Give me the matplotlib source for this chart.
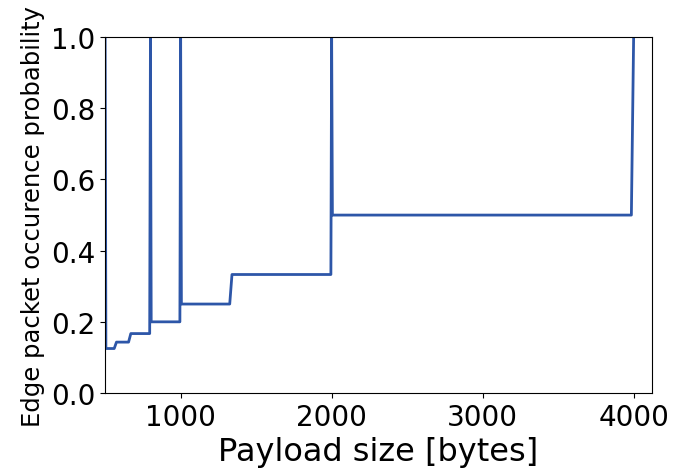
import numpy as np
import matplotlib
matplotlib.use('Agg')
import matplotlib.pyplot as plt

# payload size [bytes] and edge packet occurrence probability
payload = [500, 505, 560, 575, 655, 670, 795, 800, 805, 995, 1000, 1005,
           1325, 1340, 1995, 2000, 2005, 3985, 4000]
prob = [1.0, 0.125, 0.125, 0.143, 0.143, 0.167, 0.167, 1.0, 0.2, 0.2, 1.0, 0.25,
        0.25, 0.333, 0.333, 1.0, 0.5, 0.5, 1.0]

fig, ax = plt.subplots(figsize=(6.74, 4.77), dpi=100)
ax.plot(payload, prob, color='#2d56a8', linewidth=2)

ax.set_xlim(500, 4120)
ax.set_ylim(0, 1)
ax.set_xticks([1000, 2000, 3000, 4000])
ax.tick_params(labelsize=20)
ax.set_xlabel('Payload size [bytes]', fontsize=23)
ax.set_ylabel('Edge packet occurence probability', fontsize=17.5)

plt.subplots_adjust(left=0.156, right=0.967, top=0.92, bottom=0.174)
plt.savefig('out.png', dpi=100)
